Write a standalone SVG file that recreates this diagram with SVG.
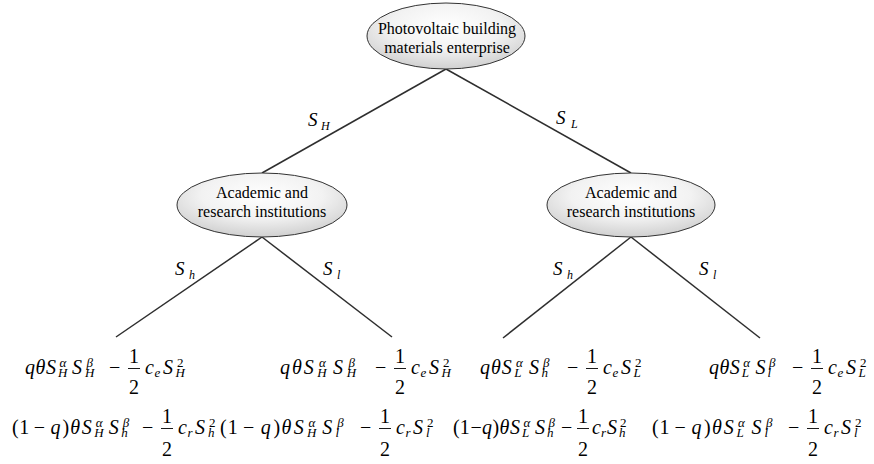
<svg xmlns="http://www.w3.org/2000/svg" width="874" height="464" viewBox="0 0 874 464">
<defs>
<radialGradient id="nodeFill" cx="50%" cy="35%" r="65%">
<stop offset="0" stop-color="#ffffff"/>
<stop offset="0.55" stop-color="#f2f2f2"/>
<stop offset="1" stop-color="#d0d0d0"/>
</radialGradient>
<style>
text { font-family: "Liberation Serif", "Times New Roman", serif; fill: #000; }
.node { fill: url(#nodeFill); stroke: #333; stroke-width: 1; }
.nt { font-size: 16px; text-anchor: middle; }
.edge { stroke: #2e2e2e; stroke-width: 1.5; fill: none; }
.bar { stroke: #000; stroke-width: 0.9; }
.i { font-style: italic; font-size: 20px; }
.n { font-size: 20px; }
.f { font-size: 20px; text-anchor: middle; }
.si { font-style: italic; font-size: 13px; }
.sn { font-size: 13px; }
.li { font-style: italic; font-size: 19px; }
.ls { font-style: italic; font-size: 12px; }
</style>
</defs>
<rect width="874" height="464" fill="#fff"/>

<g id="connectors">
<path class="edge" d="M446 69 L262 173"/>
<path class="edge" d="M446 69 L631 173"/>
<path class="edge" d="M262 237 L116 337"/>
<path class="edge" d="M262 237 L392 337"/>
<path class="edge" d="M631 237 L503 338"/>
<path class="edge" d="M631 237 L760 338"/>
<text><tspan class="li" x="308" y="126">S</tspan><tspan class="ls" x="321" y="130">H</tspan></text>
<text><tspan class="li" x="556" y="124">S</tspan><tspan class="ls" x="571" y="128">L</tspan></text>
<text><tspan class="li" x="175" y="275">S</tspan><tspan class="ls" x="189" y="279">h</tspan></text>
<text><tspan class="li" x="323" y="275">S</tspan><tspan class="ls" x="337" y="279">l</tspan></text>
<text><tspan class="li" x="553" y="275">S</tspan><tspan class="ls" x="567" y="279">h</tspan></text>
<text><tspan class="li" x="699" y="275">S</tspan><tspan class="ls" x="713" y="279">l</tspan></text>
</g>

<g id="node-enterprise">
<ellipse class="node" cx="446" cy="36" rx="79" ry="33"/>
<text class="nt" x="447" y="34">Photovoltaic building</text>
<text class="nt" x="447" y="53">materials enterprise</text>
</g>

<g id="node-academic-left">
<ellipse class="node" cx="262" cy="205" rx="85" ry="32"/>
<text class="nt" x="262" y="198">Academic and</text>
<text class="nt" x="262" y="217">research institutions</text>
</g>

<g id="node-academic-right">
<ellipse class="node" cx="631" cy="205" rx="84" ry="32"/>
<text class="nt" x="631" y="198">Academic and</text>
<text class="nt" x="631" y="217">research institutions</text>
</g>

<!-- Row 1 payoffs, baseline 374 -->
<g id="payoff-HH-e">
<text><tspan class="i" x="25" y="374">q</tspan><tspan class="i" x="35.5" y="374">θ</tspan><tspan class="i" x="46" y="374">S</tspan><tspan class="si" x="59.5" y="367">α</tspan><tspan class="si" x="58" y="377">H</tspan><tspan class="i" x="72" y="374">S</tspan><tspan class="si" x="86.5" y="367">β</tspan><tspan class="si" x="85" y="377">H</tspan><tspan class="n" x="109" y="374">−</tspan><tspan class="i" x="145" y="374">c</tspan><tspan class="si" x="154.5" y="377">e</tspan><tspan class="i" x="163" y="374">S</tspan><tspan class="sn" x="177" y="367">2</tspan><tspan class="si" x="175.5" y="377">H</tspan></text>
<text class="f" x="134" y="363">1</text><text class="f" x="134" y="394">2</text>
<path class="bar" d="M128 368.5 H140"/>
</g>

<g id="payoff-HL-e">
<text><tspan class="i" x="280" y="374">q</tspan><tspan class="i" x="291.9" y="374">θ</tspan><tspan class="i" x="303.7" y="374">S</tspan><tspan class="si" x="319" y="367">α</tspan><tspan class="si" x="317.3" y="377">H</tspan><tspan class="i" x="333.1" y="374">S</tspan><tspan class="si" x="348.4" y="367">β</tspan><tspan class="si" x="346.7" y="377">H</tspan><tspan class="n" x="375" y="374">−</tspan><tspan class="i" x="411" y="374">c</tspan><tspan class="si" x="420.5" y="377">e</tspan><tspan class="i" x="429" y="374">S</tspan><tspan class="sn" x="443" y="367">2</tspan><tspan class="si" x="441.5" y="377">H</tspan></text>
<text class="f" x="400" y="363">1</text><text class="f" x="400" y="394">2</text>
<path class="bar" d="M394 368.5 H406"/>
</g>

<g id="payoff-Lh-e">
<text><tspan class="i" x="480" y="374">q</tspan><tspan class="i" x="490.9" y="374">θ</tspan><tspan class="i" x="501.8" y="374">S</tspan><tspan class="si" x="515.9" y="367">α</tspan><tspan class="si" x="514.3" y="377">L</tspan><tspan class="i" x="528.9" y="374">S</tspan><tspan class="si" x="542.9" y="367">β</tspan><tspan class="si" x="541.4" y="377">h</tspan><tspan class="n" x="567" y="374">−</tspan><tspan class="i" x="603" y="374">c</tspan><tspan class="si" x="612.5" y="377">e</tspan><tspan class="i" x="621" y="374">S</tspan><tspan class="sn" x="635" y="367">2</tspan><tspan class="si" x="633.5" y="377">L</tspan></text>
<text class="f" x="592" y="363">1</text><text class="f" x="592" y="394">2</text>
<path class="bar" d="M586 368.5 H598"/>
</g>

<g id="payoff-Ll-e">
<text><tspan class="i" x="709" y="374">q</tspan><tspan class="i" x="719.4" y="374">θ</tspan><tspan class="i" x="729.8" y="374">S</tspan><tspan class="si" x="743.2" y="367">α</tspan><tspan class="si" x="741.7" y="377">L</tspan><tspan class="i" x="755.5" y="374">S</tspan><tspan class="si" x="768.9" y="367">β</tspan><tspan class="si" x="767.4" y="377">l</tspan><tspan class="n" x="792" y="374">−</tspan><tspan class="i" x="828" y="374">c</tspan><tspan class="si" x="837.5" y="377">e</tspan><tspan class="i" x="846" y="374">S</tspan><tspan class="sn" x="860" y="367">2</tspan><tspan class="si" x="858.5" y="377">L</tspan></text>
<text class="f" x="817" y="363">1</text><text class="f" x="817" y="394">2</text>
<path class="bar" d="M811 368.5 H823"/>
</g>

<!-- Row 2 payoffs, baseline 434 -->
<g id="payoff-Hh-r">
<text><tspan class="n" x="12" y="434">(</tspan><tspan class="n" x="19.3" y="434">1</tspan><tspan class="n" x="33.8" y="434">−</tspan><tspan class="i" x="50.5" y="434">q</tspan><tspan class="n" x="62.4" y="434">)</tspan><tspan class="i" x="70.2" y="434">θ</tspan><tspan class="i" x="81.7" y="434">S</tspan><tspan class="si" x="95.7" y="427">α</tspan><tspan class="si" x="94.2" y="437">H</tspan><tspan class="i" x="108.7" y="434">S</tspan><tspan class="si" x="122.8" y="427">β</tspan><tspan class="si" x="121.2" y="437">h</tspan><tspan class="n" x="142" y="434">−</tspan><tspan class="i" x="178" y="434">c</tspan><tspan class="si" x="187.5" y="437">r</tspan><tspan class="i" x="195" y="434">S</tspan><tspan class="sn" x="209" y="427">2</tspan><tspan class="si" x="208" y="437">h</tspan></text>
<text class="f" x="167" y="423">1</text><text class="f" x="167" y="456">2</text>
<path class="bar" d="M161 428.5 H173"/>
</g>

<g id="payoff-Hl-r">
<text><tspan class="n" x="220" y="434">(</tspan><tspan class="n" x="227.7" y="434">1</tspan><tspan class="n" x="243.1" y="434">−</tspan><tspan class="i" x="260.7" y="434">q</tspan><tspan class="n" x="273.4" y="434">)</tspan><tspan class="i" x="281.6" y="434">θ</tspan><tspan class="i" x="293.7" y="434">S</tspan><tspan class="si" x="308.6" y="427">α</tspan><tspan class="si" x="306.9" y="437">H</tspan><tspan class="i" x="322.3" y="434">S</tspan><tspan class="si" x="337.2" y="427">β</tspan><tspan class="si" x="335.5" y="437">l</tspan><tspan class="n" x="360" y="434">−</tspan><tspan class="i" x="396" y="434">c</tspan><tspan class="si" x="405.5" y="437">r</tspan><tspan class="i" x="413" y="434">S</tspan><tspan class="sn" x="427" y="427">2</tspan><tspan class="si" x="426" y="437">l</tspan></text>
<text class="f" x="385" y="423">1</text><text class="f" x="385" y="456">2</text>
<path class="bar" d="M379 428.5 H391"/>
</g>

<g id="payoff-Lh-r">
<text><tspan class="n" x="453" y="434">(</tspan><tspan class="n" x="459.7" y="434">1</tspan><tspan class="n" x="470.5" y="434">−</tspan><tspan class="i" x="482" y="434">q</tspan><tspan class="n" x="492.5" y="434">)</tspan><tspan class="i" x="499.5" y="434">θ</tspan><tspan class="i" x="510" y="434">S</tspan><tspan class="si" x="523.5" y="427">α</tspan><tspan class="si" x="522" y="437">L</tspan><tspan class="i" x="535" y="434">S</tspan><tspan class="si" x="548.5" y="427">β</tspan><tspan class="si" x="547" y="437">h</tspan><tspan class="n" x="561" y="434">−</tspan><tspan class="i" x="592" y="434">c</tspan><tspan class="si" x="601" y="437">r</tspan><tspan class="i" x="607" y="434">S</tspan><tspan class="sn" x="620" y="427">2</tspan><tspan class="si" x="619" y="437">h</tspan></text>
<text class="f" x="583" y="423">1</text><text class="f" x="583" y="456">2</text>
<path class="bar" d="M577 428.5 H589"/>
</g>

<g id="payoff-Ll-r">
<text><tspan class="n" x="652" y="434">(</tspan><tspan class="n" x="659.5" y="434">1</tspan><tspan class="n" x="674.5" y="434">−</tspan><tspan class="i" x="691.6" y="434">q</tspan><tspan class="n" x="703.9" y="434">)</tspan><tspan class="i" x="711.9" y="434">θ</tspan><tspan class="i" x="723.7" y="434">S</tspan><tspan class="si" x="738.1" y="427">α</tspan><tspan class="si" x="736.5" y="437">L</tspan><tspan class="i" x="751.5" y="434">S</tspan><tspan class="si" x="766" y="427">β</tspan><tspan class="si" x="764.4" y="437">l</tspan><tspan class="n" x="788" y="434">−</tspan><tspan class="i" x="824" y="434">c</tspan><tspan class="si" x="833.5" y="437">r</tspan><tspan class="i" x="841" y="434">S</tspan><tspan class="sn" x="855" y="427">2</tspan><tspan class="si" x="854" y="437">l</tspan></text>
<text class="f" x="813" y="423">1</text><text class="f" x="813" y="456">2</text>
<path class="bar" d="M807 428.5 H819"/>
</g>
</svg>
